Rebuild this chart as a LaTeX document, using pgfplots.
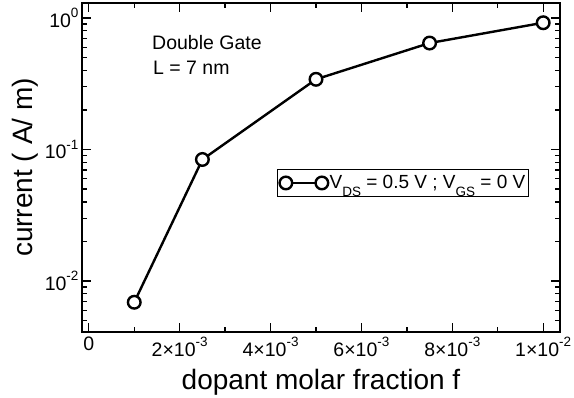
\documentclass[border=0pt]{standalone}
\usepackage{fontspec}
\setmainfont{Liberation Sans}
\usepackage{pgfplots}
\pgfplotsset{compat=1.18}
\newcommand{\sups}[1]{\raisebox{0.5em}{\fontsize{13.5}{14}\selectfont #1}}
\newcommand{\subs}[1]{\raisebox{-0.42em}{\fontsize{13.5}{14}\selectfont #1}}
\begin{document}
\begin{tikzpicture}[x=1pt,y=1pt]
\useasboundingbox (0,0) rectangle (574,398);
\begin{axis}[
  at={(82pt,66pt)}, anchor=south west,
  scale only axis, width=478pt, height=329pt,
  ymode=log,
  xmin=-0.00015, xmax=0.01037, ymin=0.0041, ymax=1.3,
  scaled x ticks=false,
  xtick={0,0.002,0.004,0.006,0.008,0.01},
  xticklabels={0, 2×10\sups{-3}, 4×10\sups{-3}, 6×10\sups{-3}, 8×10\sups{-3}, 1×10\sups{-2}},
  minor xtick={0.001,0.003,0.005,0.007,0.009},
  ytick={0.01,0.1,1},
  yticklabels={10\sups{-2},10\sups{-1},10\sups{0}},
  minor ytick={0.005,0.006,0.007,0.008,0.009,0.02,0.03,0.04,0.05,0.06,0.07,0.08,0.09,0.2,0.3,0.4,0.5,0.6,0.7,0.8,0.9},
  tick align=inside, tick pos=both,
  xticklabel pos=lower, yticklabel pos=left,
  major tick length=9pt, minor tick length=5pt,
  axis line style={line width=1.8pt},
  every tick/.style={line width=1.3pt, black},
  tick label style={font=\fontsize{19.5}{22}\selectfont},
  xticklabel style={yshift=-1.5pt},
  label style={font=\fontsize{28}{32}\selectfont},
  xlabel={dopant molar fraction f},
  ylabel={current ( A/ m)},
  xlabel style={at={(axis description cs:0.5,-0.1733)}, anchor=base},
  ylabel style={at={(axis description cs:-0.1046,0.5)}, anchor=base},
  legend style={at={(axis description cs:0.408,0.453)}, anchor=west,
    draw=black, line width=1.1pt, inner xsep=2pt, inner ysep=4.5pt,
    font=\fontsize{19}{22}\selectfont,
    nodes={inner sep=1.5pt}},
  legend image code/.code={\draw[#1] plot coordinates {(0pt,0pt) (36pt,0pt)};},
]
\addplot[black, line width=2.4pt, mark=*, mark size=6.3pt,
  mark options={line width=2.4pt, fill=white, draw=black}]
  coordinates {(0.001,0.0069) (0.0025,0.084) (0.005,0.342) (0.0075,0.645) (0.01,0.92)};
\addlegendentry{V\subs{DS} = 0.5 V ; V\subs{GS} = 0 V}
\node[anchor=base west, inner sep=0pt, font=\fontsize{19.5}{22}\selectfont] at (axis description cs:0.1464,0.860) {Double Gate};
\node[anchor=base west, inner sep=0pt, font=\fontsize{19.5}{22}\selectfont] at (axis description cs:0.1485,0.784) {L = 7 nm};
\end{axis}
\end{tikzpicture}
\end{document}
